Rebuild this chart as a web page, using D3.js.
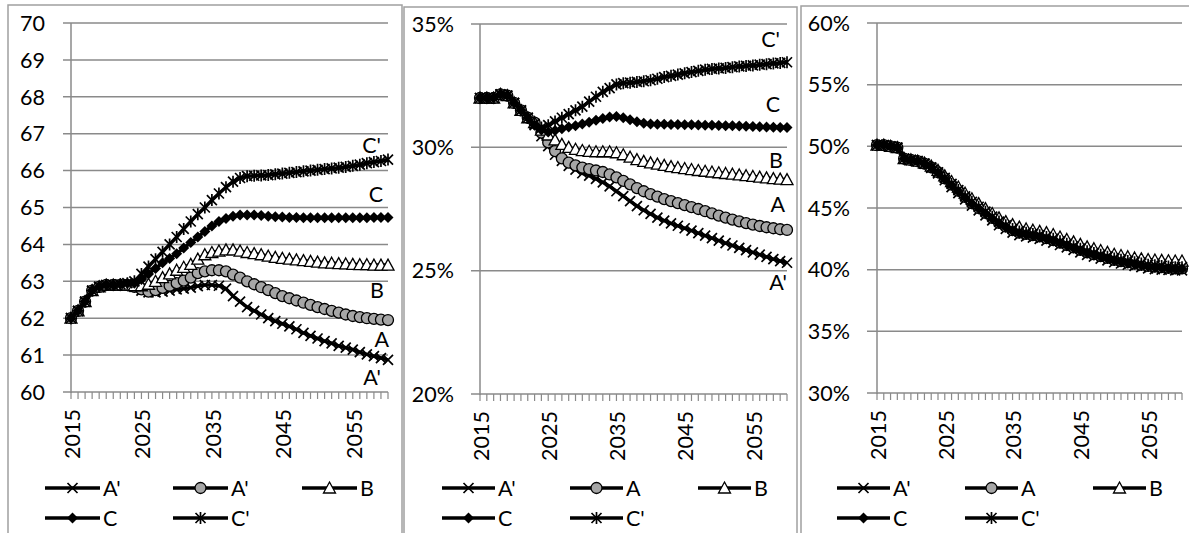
<!DOCTYPE html>
<html><head><meta charset="utf-8">
<script src="https://cdn.jsdelivr.net/npm/d3@7"></script>
<style>
body{margin:0;background:#fff;overflow:hidden}
text{font-family:Lato,'Open Sans',sans-serif;font-size:21.5px;fill:#000}
</style>
</head><body>
<svg id="chart" width="1189" height="533"></svg>
<script>
// ---------- DATA ----------
const years = d3.range(2015, 2061);
const xTickLabels = [2015, 2025, 2035, 2045, 2055];
const seriesKeys = ["A'", "A", "B", "C", "C'"];
const legendNames1 = ["A'", "A'", "B", "C", "C'"];
const legendNames2 = ["A'", "A", "B", "C", "C'"];
const legendNames3 = ["A'", "A", "B", "C", "C'"];
const yTicks1 = [60, 61, 62, 63, 64, 65, 66, 67, 68, 69, 70];
const yTicks2 = [20, 25, 30, 35];
const yTicks3 = [30, 35, 40, 45, 50, 55, 60];

// Panel 1
const p1_Ap = [62.0,62.2,62.45,62.75,62.85,62.9,62.9,62.9,62.9,62.85,62.75,62.7,62.7,62.72,62.75,62.78,62.8,62.83,62.87,62.9,62.9,62.88,62.8,62.6,62.45,62.3,62.2,62.1,62.0,61.92,61.85,61.78,61.7,61.6,61.52,61.45,61.38,61.32,61.25,61.2,61.15,61.08,61.02,60.97,60.92,60.87];
const p1_A  = [62.0,62.2,62.45,62.75,62.85,62.9,62.9,62.9,62.9,62.85,62.78,62.72,62.76,62.82,62.88,62.95,63.02,63.1,63.22,63.27,63.3,63.3,63.27,63.18,63.1,63.0,62.92,62.84,62.76,62.68,62.6,62.54,62.48,62.42,62.36,62.3,62.25,62.2,62.15,62.1,62.06,62.03,62.0,61.98,61.96,61.95];
const p1_B  = [62.0,62.2,62.45,62.75,62.85,62.9,62.9,62.9,62.9,62.88,62.88,62.92,63.0,63.1,63.2,63.3,63.38,63.46,63.6,63.72,63.78,63.82,63.85,63.85,63.82,63.78,63.75,63.72,63.68,63.65,63.62,63.6,63.58,63.56,63.54,63.52,63.5,63.49,63.48,63.47,63.46,63.45,63.45,63.44,63.44,63.44];
const p1_C  = [62.0,62.2,62.45,62.75,62.85,62.9,62.9,62.92,62.95,62.95,63.05,63.2,63.35,63.5,63.62,63.75,63.9,64.05,64.2,64.35,64.5,64.62,64.7,64.76,64.8,64.8,64.8,64.78,64.76,64.75,64.74,64.73,64.73,64.72,64.72,64.72,64.72,64.72,64.72,64.72,64.72,64.72,64.72,64.73,64.73,64.73];
const p1_Cp = [62.0,62.2,62.45,62.75,62.85,62.9,62.9,62.92,62.95,63.0,63.2,63.4,63.6,63.8,64.0,64.2,64.42,64.62,64.82,65.0,65.2,65.38,65.55,65.7,65.8,65.85,65.86,65.87,65.88,65.9,65.92,65.94,65.96,65.98,66.0,66.02,66.04,66.06,66.08,66.1,66.13,66.16,66.2,66.23,66.26,66.3];

// Panel 2 (%)
const p2_Ap = [32.0,32.0,32.0,32.15,32.1,31.8,31.5,31.2,30.9,30.45,30.05,29.7,29.45,29.25,29.1,28.95,28.85,28.72,28.58,28.42,28.22,28.02,27.82,27.62,27.45,27.3,27.15,27.03,26.92,26.82,26.72,26.62,26.52,26.42,26.32,26.22,26.12,26.02,25.92,25.83,25.74,25.65,25.56,25.47,25.39,25.32];
const p2_A  = [32.0,32.0,32.0,32.15,32.1,31.8,31.5,31.2,31.0,30.6,30.2,29.85,29.55,29.38,29.27,29.18,29.12,29.06,29.0,28.9,28.78,28.64,28.5,28.35,28.22,28.1,28.0,27.9,27.82,27.74,27.66,27.58,27.5,27.41,27.32,27.23,27.15,27.07,27.0,26.93,26.87,26.81,26.76,26.72,26.68,26.65];
const p2_B  = [32.0,32.0,32.0,32.15,32.1,31.8,31.5,31.2,31.0,30.7,30.5,30.3,30.12,30.0,29.92,29.87,29.84,29.82,29.82,29.82,29.78,29.7,29.6,29.5,29.43,29.37,29.32,29.27,29.22,29.18,29.14,29.1,29.06,29.03,29.0,28.97,28.94,28.91,28.88,28.85,28.82,28.79,28.76,28.73,28.71,28.69];
const p2_C  = [32.0,32.0,32.0,32.15,32.1,31.8,31.5,31.2,30.9,30.7,30.62,30.68,30.75,30.82,30.88,30.95,31.02,31.1,31.17,31.23,31.25,31.2,31.12,31.04,30.98,30.95,30.94,30.94,30.93,30.93,30.92,30.92,30.91,30.9,30.9,30.89,30.88,30.87,30.86,30.85,30.84,30.83,30.82,30.81,30.8,30.8];
const p2_Cp = [32.0,32.0,32.0,32.15,32.1,31.8,31.5,31.2,30.95,30.8,30.9,31.05,31.2,31.35,31.5,31.65,31.85,32.05,32.25,32.4,32.55,32.6,32.62,32.65,32.68,32.72,32.78,32.85,32.9,32.95,33.0,33.05,33.1,33.15,33.18,33.2,33.22,33.25,33.28,33.3,33.32,33.35,33.37,33.4,33.42,33.45];

// Panel 3 (%)
const p3_Ap = [50.1,50.1,50.0,49.9,49.0,48.9,48.8,48.6,48.25,47.8,47.25,46.7,46.2,45.7,45.2,44.8,44.4,44.0,43.6,43.3,43.0,42.8,42.7,42.6,42.5,42.35,42.2,42.0,41.8,41.6,41.4,41.2,41.05,40.9,40.75,40.6,40.5,40.4,40.3,40.2,40.1,40.05,40.0,39.98,39.95,39.95];
const p3_A  = [50.1,50.1,50.0,49.9,49.0,48.9,48.8,48.6,48.3,47.9,47.4,46.9,46.4,45.9,45.4,45.0,44.6,44.2,43.8,43.5,43.2,43.0,42.9,42.8,42.7,42.55,42.4,42.2,42.0,41.8,41.6,41.4,41.25,41.1,40.95,40.8,40.7,40.6,40.5,40.4,40.3,40.25,40.2,40.15,40.1,40.1];
const p3_B  = [50.1,50.1,50.0,49.9,49.0,48.9,48.8,48.65,48.4,48.05,47.6,47.15,46.7,46.2,45.75,45.35,44.95,44.55,44.2,43.9,43.65,43.45,43.3,43.2,43.1,43.0,42.85,42.65,42.45,42.25,42.05,41.85,41.7,41.55,41.4,41.25,41.15,41.05,40.95,40.88,40.82,40.78,40.75,40.72,40.7,40.7];
const p3_C  = [50.1,50.1,50.0,49.9,49.0,48.9,48.8,48.6,48.3,47.85,47.35,46.85,46.35,45.85,45.35,44.95,44.55,44.15,43.75,43.45,43.15,42.95,42.85,42.75,42.65,42.5,42.35,42.15,41.95,41.75,41.55,41.35,41.2,41.05,40.9,40.75,40.65,40.55,40.45,40.35,40.25,40.2,40.15,40.1,40.05,40.05];
const p3_Cp = [50.1,50.1,50.0,49.9,49.0,48.9,48.8,48.6,48.3,47.9,47.45,46.95,46.45,45.95,45.5,45.1,44.7,44.3,43.9,43.6,43.3,43.1,43.0,42.9,42.8,42.65,42.5,42.3,42.1,41.9,41.7,41.5,41.35,41.2,41.05,40.9,40.8,40.7,40.6,40.5,40.4,40.35,40.3,40.25,40.2,40.2];

// ---------- LAYOUT ----------
const markerKinds = ["x", "circle", "triangle", "diamond", "star"];
const panels = [
  { border:[8,5,394,560], x0:71, x1:388, gridX:63, yTop:23, yBot:392, dom:[60,70], ticks:yTicks1, fmt:d=>String(d), labelX:45,
    series:[p1_Ap,p1_A,p1_B,p1_C,p1_Cp], legend:legendNames1, legX:[45,173,302], legLen:55,
    ends:[{dy:25,dx:-7},{dy:27,dx:1},{dy:33,dx:-4},{dy:-15,dx:-5},{dy:-7,dx:-7}] },
  { border:[404,7,393,560], x0:480, x1:787, gridX:471, yTop:24, yBot:394, dom:[20,35], ticks:yTicks2, fmt:d=>d+"%", labelX:454,
    series:[p2_Ap,p2_A,p2_B,p2_C,p2_Cp], legend:legendNames2, legX:[442,570,698], legLen:53,
    ends:[{dy:27,dx:0},{dy:-18,dx:-2},{dy:-12,dx:-4},{dy:-16,dx:-7},{dy:-15,dx:-7}] },
  { border:[801,6,400,560], x0:877, x1:1182, gridX:867, yTop:23, yBot:393, dom:[30,60], ticks:yTicks3, fmt:d=>d+"%", labelX:850,
    series:[p3_Ap,p3_A,p3_B,p3_C,p3_Cp], legend:legendNames3, legX:[837,965,1093], legLen:53, ends:null }
];

const svg = d3.select("#chart");
const GRID = "#8a8a8a";

function drawMarker(g, kind, x, y) {
  if (kind === "x") {
    g.append("path").attr("d", `M${x-5},${y-5}L${x+5},${y+5}M${x-5},${y+5}L${x+5},${y-5}`)
      .attr("stroke", "#000").attr("stroke-width", 1.7).attr("fill", "none");
  } else if (kind === "star") {
    g.append("path").attr("d", `M${x-5},${y-5}L${x+5},${y+5}M${x-5},${y+5}L${x+5},${y-5}M${x},${y-6}L${x},${y+6}`)
      .attr("stroke", "#000").attr("stroke-width", 1.7).attr("fill", "none");
  } else if (kind === "circle") {
    g.append("circle").attr("cx", x).attr("cy", y).attr("r", 5.5)
      .attr("fill", "#a6a6a6").attr("stroke", "#000").attr("stroke-width", 1.3);
  } else if (kind === "triangle") {
    g.append("path").attr("d", `M${x},${y-6}L${x+6},${y+5}L${x-6},${y+5}Z`)
      .attr("fill", "#fff").attr("stroke", "#000").attr("stroke-width", 1.3);
  } else if (kind === "diamond") {
    g.append("path").attr("d", `M${x},${y-5.5}L${x+5.5},${y}L${x},${y+5.5}L${x-5.5},${y}Z`)
      .attr("fill", "#000");
  }
}

panels.forEach((p) => {
  const g = svg.append("g");
  g.append("rect").attr("x", p.border[0]).attr("y", p.border[1]).attr("width", p.border[2]).attr("height", p.border[3])
    .attr("fill", "none").attr("stroke", "#a0a0a0").attr("stroke-width", 1.5);

  const x = d3.scaleLinear().domain([years[0], years[years.length-1]]).range([p.x0, p.x1]);
  const y = d3.scaleLinear().domain(p.dom).range([p.yBot, p.yTop]);

  p.ticks.forEach(t => {
    g.append("line").attr("x1", p.gridX).attr("x2", p.x1).attr("y1", y(t)).attr("y2", y(t))
      .attr("stroke", GRID).attr("stroke-width", 1.5);
    g.append("text").attr("x", p.labelX).attr("y", y(t)).attr("dy", "0.36em").attr("text-anchor", "end").text(p.fmt(t));
  });
  g.append("line").attr("x1", p.x0).attr("x2", p.x0).attr("y1", p.yTop).attr("y2", p.yBot + 1)
    .attr("stroke", GRID).attr("stroke-width", 1.5);
  years.forEach(yr => {
    g.append("line").attr("x1", x(yr)).attr("x2", x(yr)).attr("y1", p.yBot).attr("y2", p.yBot + 7)
      .attr("stroke", GRID).attr("stroke-width", 1.2);
  });
  xTickLabels.forEach(yr => {
    g.append("text").attr("transform", `translate(${x(yr) + 1},${p.yBot + 17}) rotate(-90)`)
      .attr("text-anchor", "end").attr("dy", "0.36em").text(yr);
  });

  const line = d3.line().x((d, i) => x(years[i])).y(d => y(d));
  p.series.forEach((vals, si) => {
    const sg = g.append("g");
    sg.append("path").attr("d", line(vals)).attr("fill", "none").attr("stroke", "#000")
      .attr("stroke-width", 3.5).attr("stroke-linejoin", "round");
    vals.forEach((v, i) => drawMarker(sg, markerKinds[si], x(years[i]), y(v)));
  });

  if (p.ends) {
    p.series.forEach((vals, si) => {
      const e = p.ends[si];
      g.append("text").attr("x", x(years[years.length-1]) + e.dx).attr("y", y(vals[vals.length-1]) + e.dy)
        .attr("text-anchor", "end").text(seriesKeys[si]);
    });
  }

  p.legend.forEach((name, i) => {
    const col = i % 3, row = Math.floor(i / 3);
    const lx = p.legX[col], ly = 488 + row * 30;
    g.append("line").attr("x1", lx).attr("x2", lx + p.legLen).attr("y1", ly).attr("y2", ly)
      .attr("stroke", "#000").attr("stroke-width", 3.5);
    drawMarker(g, markerKinds[i], lx + p.legLen / 2, ly);
    g.append("text").attr("x", lx + p.legLen + 3).attr("y", ly).attr("dy", "0.36em").text(name);
  });
});
</script>
</body></html>
